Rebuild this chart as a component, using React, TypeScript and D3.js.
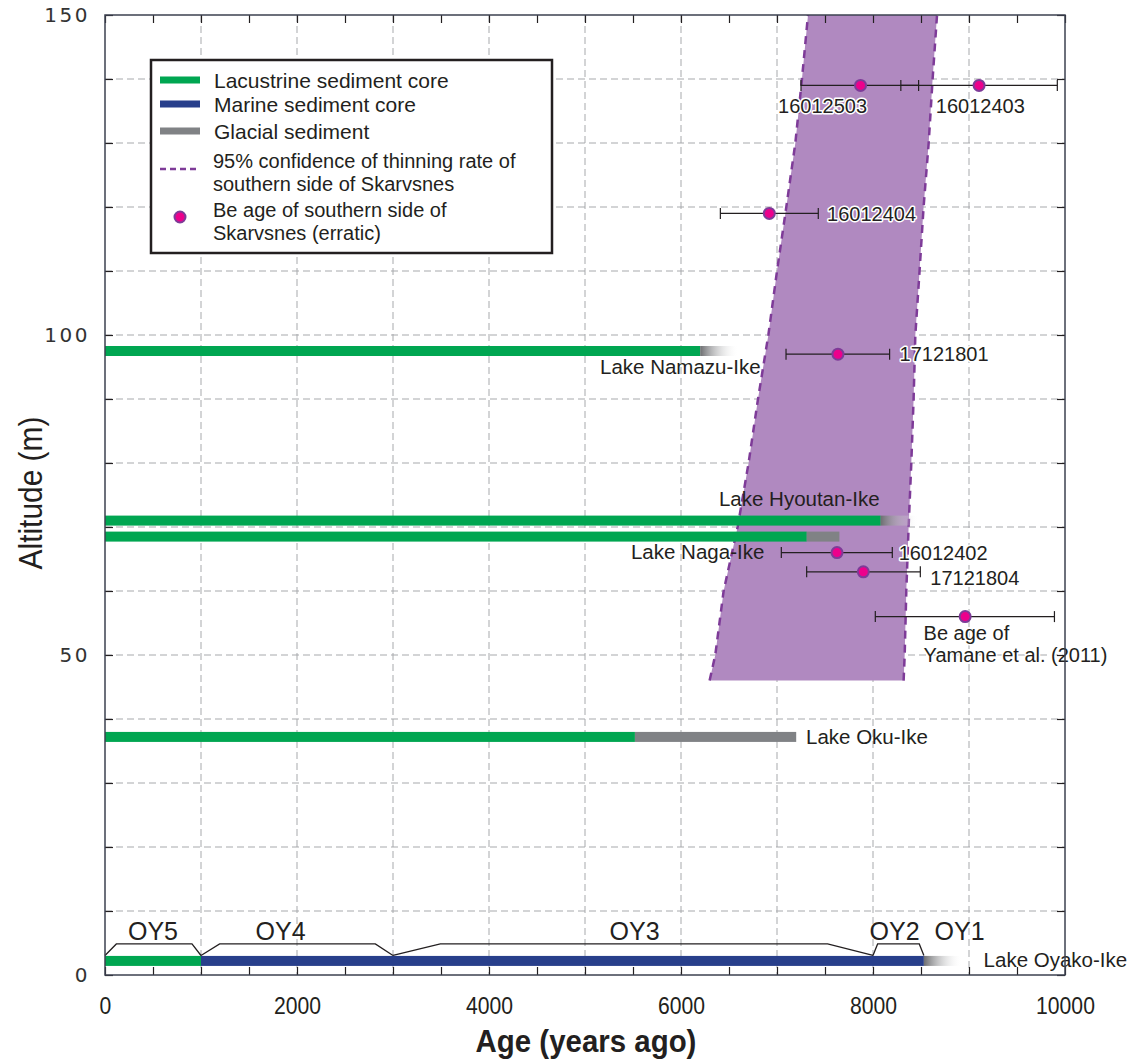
import React, { useRef, useEffect } from "react";
import * as d3 from "d3";

// ---- sediment cores: [lake, kind, from (years ago), to (years ago)]
const coreNames = ["Lake Namazu-Ike", "Lake Hyoutan-Ike", "Lake Naga-Ike", "Lake Oku-Ike", "Lake Oyako-Ike"];
const coreAltitudes = [97.5, 71.0, 68.5, 37.2, 2.2];
const coreSegments: [string, string, number, number][] = [
  ["Lake Namazu-Ike", "lacustrine", 0, 6200],
  ["Lake Namazu-Ike", "fade", 6200, 6600],
  ["Lake Hyoutan-Ike", "lacustrine", 0, 8080],
  ["Lake Hyoutan-Ike", "fade", 8080, 8470],
  ["Lake Naga-Ike", "lacustrine", 0, 7310],
  ["Lake Naga-Ike", "glacial", 7310, 7650],
  ["Lake Oku-Ike", "lacustrine", 0, 5520],
  ["Lake Oku-Ike", "glacial", 5520, 7200],
  ["Lake Oyako-Ike", "lacustrine", 0, 1000],
  ["Lake Oyako-Ike", "marine", 1000, 8530],
  ["Lake Oyako-Ike", "fade", 8530, 8930],
];
// label anchor for each lake (years, altitude, anchor)
const coreLabelAge = [6830, 7232, 6868, 7302, 9152];
const coreLabelAlt = [95.0, 74.5, 66.1, 37.2, 2.4];
const coreLabelAnchor = ["end", "middle", "end", "start", "start"];

// ---- Be exposure ages (erratics)
const sampleIds = ["16012503", "16012403", "16012404", "17121801", "16012402", "17121804", "Yamane"];
const sampleAges = [7870, 9105, 6920, 7635, 7625, 7899, 8960];
const sampleAlts = [139, 139, 119, 97, 66, 63, 56];
const sampleErrLo = [7250, 8290, 6410, 7094, 7045, 7309, 8024];
const sampleErrHi = [8475, 9920, 7430, 8173, 8201, 8493, 9890];
const sampleLabelAge = [7475, 9118, 7521, 8277, 8267, 8597, 8527];
const sampleLabelAlt = [135.8, 135.8, 119, 97, 66, 62.1, 53.5];
const sampleLabelAnchor = ["middle", "middle", "start", "start", "start", "start", "start"];

// ---- 95% confidence band of thinning rate
const bandAlts = [46, 50, 60, 70, 80, 90, 100, 110, 120, 130, 140, 150];
const bandYoung = [6298, 6357, 6444, 6590, 6704, 6802, 6910, 7000, 7097, 7191, 7260, 7323];
const bandOld = [8319, 8330, 8347, 8371, 8399, 8423, 8441, 8485, 8527, 8580, 8621, 8667];

// ---- Lake Oyako-Ike units
const unitNames = ["OY5", "OY4", "OY3", "OY2"];
const unitFrom = [0, 1000, 3000, 8000];
const unitTo = [1000, 3000, 8000, 8530];
const unitTopFrom = [118, 1194, 3493, 8048];
const unitTopTo = [906, 2816, 7527, 8482];
const unitLabelNames = ["OY5", "OY4", "OY3", "OY2", "OY1"];
const unitLabelAge = [500, 1829, 5517, 8225, 8902];

const xTickLabels = [0, 2000, 4000, 6000, 8000, 10000];
const yTickLabels = [0, 50, 100, 150];

const GREEN = "#00a651";
const BLUE = "#283f8b";
const GRAY = "#808285";
const PURPLE = "#7e3b98";
const PINK = "#ec008c";
const FONT = "'Liberation Sans', Arial, Helvetica, sans-serif";

const Chart = () => {
  const svgRef = useRef(null);

  useEffect(() => {
    const svg = d3.select(svgRef.current);
    svg.selectAll("*").remove();

    const x = d3.scaleLinear().domain([0, 10000]).range([105, 1065]);
    const y = d3.scaleLinear().domain([0, 150]).range([975, 15]);
    const [x0, x1] = x.range();
    const [y0, y1] = y.range();

    const defs = svg.append("defs");
    const fade = defs
      .append("linearGradient")
      .attr("id", "fade")
      .attr("x1", "0")
      .attr("x2", "1")
      .attr("y1", "0")
      .attr("y2", "0");
    fade.append("stop").attr("offset", "0").attr("stop-color", "#6d6e71");
    fade.append("stop").attr("offset", "1").attr("stop-color", "#ffffff").attr("stop-opacity", 0);
    defs
      .append("clipPath")
      .attr("id", "plot-clip")
      .append("rect")
      .attr("x", x0)
      .attr("y", y1)
      .attr("width", x1 - x0)
      .attr("height", y0 - y1);

    // grid
    const grid = svg.append("g").attr("stroke", "#a7a9ac").attr("stroke-width", 1).attr("stroke-dasharray", "7,4");
    grid
      .selectAll("line.v")
      .data(d3.range(1000, 10000, 1000))
      .join("line")
      .attr("x1", (d) => x(d))
      .attr("x2", (d) => x(d))
      .attr("y1", y1)
      .attr("y2", y0);
    grid
      .selectAll("line.h")
      .data(d3.range(10, 150, 10))
      .join("line")
      .attr("class", "h")
      .attr("x1", x0)
      .attr("x2", x1)
      .attr("y1", (d) => y(d))
      .attr("y2", (d) => y(d));

    // confidence band
    const band = bandAlts.map((a, i) => ({ a, lo: bandYoung[i], hi: bandOld[i] }));
    const plot = svg.append("g").attr("clip-path", "url(#plot-clip)");
    plot
      .append("path")
      .datum(band)
      .attr("fill", "#b089c0")
      .attr(
        "d",
        d3
          .area<any>()
          .y((d) => y(d.a))
          .x0((d) => x(d.lo))
          .x1((d) => x(d.hi))
      );
    [bandYoung, bandOld].forEach((edge) => {
      plot
        .append("path")
        .datum(bandAlts.map((a, i) => [edge[i], a]))
        .attr("fill", "none")
        .attr("stroke", PURPLE)
        .attr("stroke-width", 2.5)
        .attr("stroke-dasharray", "8,6")
        .attr(
          "d",
          d3
            .line<any>()
            .x((d) => x(d[0]))
            .y((d) => y(d[1]))
        );
    });

    // sediment cores
    const segColor = (k) =>
      k === "lacustrine" ? GREEN : k === "marine" ? BLUE : k === "glacial" ? GRAY : "url(#fade)";
    svg
      .append("g")
      .selectAll("rect")
      .data(coreSegments)
      .join("rect")
      .attr("x", (d) => x(d[2]))
      .attr("width", (d) => x(d[3]) - x(d[2]))
      .attr("y", (d) => y(coreAltitudes[coreNames.indexOf(d[0])]) - 5)
      .attr("height", 10)
      .attr("fill", (d) => segColor(d[1]));

    svg
      .append("g")
      .selectAll("text")
      .data(coreNames)
      .join("text")
      .attr("x", (d, i) => x(coreLabelAge[i]))
      .attr("y", (d, i) => y(coreLabelAlt[i]))
      .attr("dy", "0.36em")
      .attr("text-anchor", (d, i) => coreLabelAnchor[i])
      .attr("font-family", FONT)
      .attr("font-size", 20.5)
      .attr("fill", "#231f20")
      .text((d) => d);

    // Oyako-Ike unit brackets
    const base = y(3.05);
    const top = y(4.85);
    const bracket = d3.line();
    svg
      .append("g")
      .selectAll("path")
      .data(unitNames)
      .join("path")
      .attr("fill", "none")
      .attr("stroke", "#231f20")
      .attr("stroke-width", 1.3)
      .attr("d", (d, i) =>
        bracket([
          [x(unitFrom[i]), base],
          [x(unitTopFrom[i]), top],
          [x(unitTopTo[i]), top],
          [x(unitTo[i]), base],
        ])
      );
    svg
      .append("g")
      .selectAll("text")
      .data(unitLabelNames)
      .join("text")
      .attr("x", (d, i) => x(unitLabelAge[i]))
      .attr("y", y(6.8))
      .attr("dy", "0.36em")
      .attr("text-anchor", "middle")
      .attr("font-family", FONT)
      .attr("font-size", 25)
      .attr("fill", "#231f20")
      .text((d) => d);

    // error bars + points
    const pts = svg.append("g");
    sampleIds.forEach((id, i) => {
      const cy = y(sampleAlts[i]);
      const g = pts.append("g").attr("stroke", "#231f20").attr("stroke-width", 1.2);
      g.append("line").attr("x1", x(sampleErrLo[i])).attr("x2", x(sampleErrHi[i])).attr("y1", cy).attr("y2", cy);
      [sampleErrLo[i], sampleErrHi[i]].forEach((v) => {
        g.append("line").attr("x1", x(v)).attr("x2", x(v)).attr("y1", cy - 5.5).attr("y2", cy + 5.5);
      });
    });
    pts
      .selectAll("circle")
      .data(sampleIds)
      .join("circle")
      .attr("cx", (d, i) => x(sampleAges[i]))
      .attr("cy", (d, i) => y(sampleAlts[i]))
      .attr("r", 5.5)
      .attr("fill", PINK)
      .attr("stroke", PURPLE)
      .attr("stroke-width", 2);

    // sample labels (with white halo)
    const lab = svg
      .append("g")
      .selectAll("text")
      .data(sampleIds)
      .join("text")
      .attr("x", (d, i) => x(sampleLabelAge[i]))
      .attr("y", (d, i) => y(sampleLabelAlt[i]))
      .attr("dy", "0.36em")
      .attr("text-anchor", (d, i) => sampleLabelAnchor[i])
      .attr("font-family", FONT)
      .attr("font-size", 20)
      .attr("fill", "#231f20")
      .attr("stroke", "#ffffff")
      .attr("stroke-width", 3)
      .attr("paint-order", "stroke")
      .attr("stroke-linejoin", "round");
    lab.each(function (d, i) {
      const t = d3.select(this);
      if (d === "Yamane") {
        t.append("tspan").attr("x", x(sampleLabelAge[i])).text("Be age of");
        t.append("tspan").attr("x", x(sampleLabelAge[i])).attr("dy", 22.5).text("Yamane et al. (2011)");
      } else {
        t.text(d);
      }
    });

    // axes (inward ticks)
    const ticks500 = d3.range(0, 10001, 500);
    const ticks10 = d3.range(0, 151, 10);
    const styleAxis = (g) => {
      g.select(".domain").remove();
      g.selectAll(".tick line").attr("stroke", "#231f20").attr("stroke-width", 1.2);
    };
    svg
      .append("g")
      .attr("transform", `translate(0,${y1})`)
      .call(d3.axisTop(x).tickValues(ticks500).tickSize(-8).tickSizeOuter(0).tickFormat(() => ""))
      .call(styleAxis);
    svg
      .append("g")
      .attr("transform", `translate(${x1},0)`)
      .call(d3.axisRight(y).tickValues(ticks10).tickSize(-8).tickSizeOuter(0).tickFormat(() => ""))
      .call(styleAxis);
    const xAxis = svg
      .append("g")
      .attr("transform", `translate(0,${y0})`)
      .call(
        d3
          .axisBottom(x)
          .tickValues(ticks500)
          .tickSize(-8)
          .tickSizeOuter(0)
          .tickPadding(23)
          .tickFormat((d) => (xTickLabels.includes(+d) ? String(d) : ""))
      )
      .call(styleAxis);
    xAxis
      .selectAll(".tick text")
      .attr("font-family", FONT)
      .attr("font-size", 23)
      .attr("fill", "#231f20")
      .attr("transform", "scale(0.92,1)");
    const yAxis = svg
      .append("g")
      .attr("transform", `translate(${x0},0)`)
      .call(
        d3
          .axisLeft(y)
          .tickValues(ticks10)
          .tickSize(-8)
          .tickSizeOuter(0)
          .tickPadding(15)
          .tickFormat((d) => (yTickLabels.includes(+d) ? String(d) : ""))
      )
      .call(styleAxis);
    yAxis
      .selectAll(".tick text")
      .attr("font-family", "'DejaVu Sans', Verdana, sans-serif")
      .attr("font-size", 20)
      .attr("letter-spacing", 2.5)
      .attr("fill", "#333");

    svg
      .append("rect")
      .attr("x", x0)
      .attr("y", y1)
      .attr("width", x1 - x0)
      .attr("height", y0 - y1)
      .attr("fill", "none")
      .attr("stroke", "#3c4250")
      .attr("stroke-width", 1.5);

    // axis titles
    svg
      .append("text")
      .attr("transform", `translate(${(x0 + x1) / 2 + 1},1052) scale(0.95,1)`)
      .attr("text-anchor", "middle")
      .attr("font-family", FONT)
      .attr("font-weight", "bold")
      .attr("font-size", 31)
      .attr("fill", "#231f20")
      .text("Age (years ago)");
    svg
      .append("text")
      .attr("transform", `translate(42,${(y0 + y1) / 2 - 2}) rotate(-90) scale(0.88,1)`)
      .attr("text-anchor", "middle")
      .attr("font-family", FONT)
      .attr("font-size", 34)
      .attr("fill", "#231f20")
      .text("Altitude (m)");

    // legend
    const lg = svg.append("g");
    lg.append("rect")
      .attr("x", 151)
      .attr("y", 60)
      .attr("width", 401)
      .attr("height", 193)
      .attr("fill", "#ffffff")
      .attr("stroke", "#231f20")
      .attr("stroke-width", 2.5);
    const swatches = [
      ["Lacustrine sediment core", GREEN, 80],
      ["Marine sediment core", BLUE, 104],
      ["Glacial sediment", GRAY, 131],
    ];
    swatches.forEach(([label, color, cy]) => {
      lg.append("line")
        .attr("x1", 160)
        .attr("x2", 200)
        .attr("y1", cy)
        .attr("y2", cy)
        .attr("stroke", color)
        .attr("stroke-width", 7);
      lg.append("text")
        .attr("x", 214)
        .attr("y", cy)
        .attr("dy", "0.36em")
        .attr("font-family", FONT)
        .attr("font-size", 21)
        .attr("fill", "#231f20")
        .text(label);
    });
    lg.append("line")
      .attr("x1", 160)
      .attr("x2", 200)
      .attr("y1", 169)
      .attr("y2", 169)
      .attr("stroke", PURPLE)
      .attr("stroke-width", 2.5)
      .attr("stroke-dasharray", "6,4");
    const multi = [
      [["95% confidence of thinning rate of", "southern side of Skarvsnes"], 161],
      [["Be age of southern side of", "Skarvsnes (erratic)"], 210],
    ];
    multi.forEach(([lines, cy]: any) => {
      const t = lg
        .append("text")
        .attr("font-family", FONT)
        .attr("font-size", 20)
        .attr("fill", "#231f20");
      lines.forEach((l, k) => {
        t.append("tspan")
          .attr("x", 213)
          .attr("y", cy + k * 22.5)
          .attr("dy", "0.36em")
          .text(l);
      });
    });
    lg.append("circle")
      .attr("cx", 180)
      .attr("cy", 217)
      .attr("r", 5.5)
      .attr("fill", PINK)
      .attr("stroke", PURPLE)
      .attr("stroke-width", 2);
  }, []);

  return <svg ref={svgRef} width={1140} height={1063} style={{ position: "absolute", left: 0, top: 0, background: "#fff" }}></svg>;
};

export default function App() {
  return <Chart />;
}
